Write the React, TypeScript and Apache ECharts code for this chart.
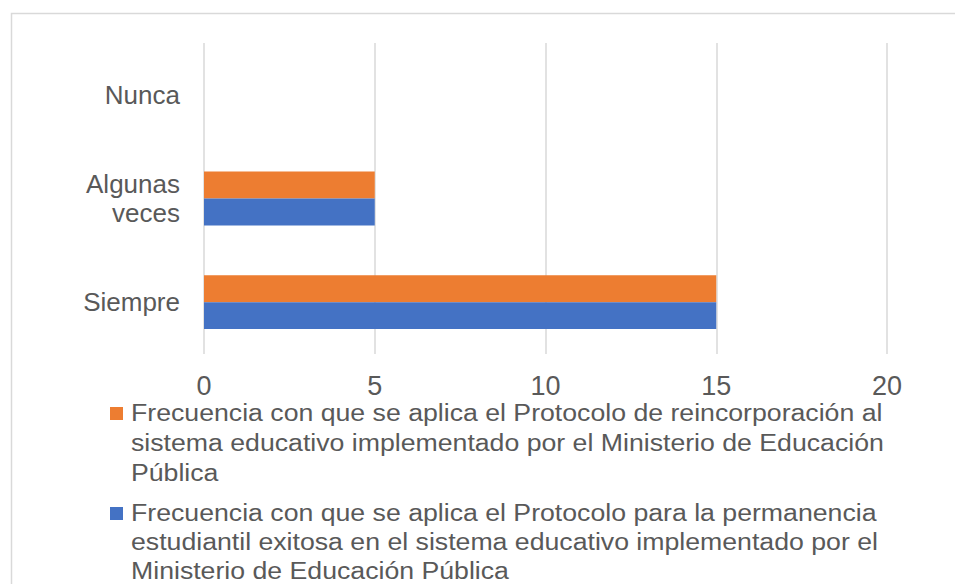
import React, { useEffect, useRef } from "react";
import * as echarts from "echarts";

const categories = ["Siempre", "Algunas\nveces", "Nunca"];
const permanencia = [15, 5, 0];
const reincorporacion = [15, 5, 0];
const xTicks = { min: 0, max: 20, interval: 5 };
const legendOrange = [
  "Frecuencia con que se aplica el Protocolo de reincorporación al",
  "sistema educativo implementado por el Ministerio de Educación",
  "Pública",
];
const legendBlue = [
  "Frecuencia con que se aplica el Protocolo para la permanencia",
  "estudiantil exitosa en el sistema educativo implementado por el",
  "Ministerio de Educación Pública",
];

const ORANGE = "#ED7D31";
const BLUE = "#4472C4";
const TEXT = "#595959";
const FONT = "'Liberation Sans', Arial, sans-serif";

export default function App() {
  const ref = useRef<HTMLDivElement>(null);
  useEffect(() => {
    if (!ref.current) return;
    const chart = echarts.init(ref.current, undefined, { renderer: "svg" });
    chart.setOption({
      animation: false,
      backgroundColor: "#fff",
      textStyle: { fontFamily: FONT },
      grid: { left: 204, right: 68, top: 43, bottom: 230 },
      xAxis: {
        type: "value",
        min: xTicks.min,
        max: xTicks.max,
        interval: xTicks.interval,
        axisLine: { show: false },
        axisTick: { show: false },
        splitLine: { lineStyle: { color: "#D9D9D9", width: 1.5 } },
        axisLabel: { color: TEXT, fontSize: 27, fontFamily: FONT, margin: 18 },
      },
      yAxis: {
        type: "category",
        data: categories,
        axisLine: { show: false },
        axisTick: { show: false },
        axisLabel: {
          color: TEXT,
          fontSize: 26,
          fontFamily: FONT,
          margin: 24,
          lineHeight: 29,
          align: "right",
        },
      },
      series: [
        {
          name: legendOrange.join(" "),
          type: "bar",
          data: reincorporacion,
          itemStyle: { color: ORANGE },
          barGap: "0%",
          barCategoryGap: "48%",
        },
        {
          name: legendBlue.join(" "),
          type: "bar",
          data: permanencia,
          itemStyle: { color: BLUE },
          barGap: "0%",
          barCategoryGap: "48%",
        },
      ],
      graphic: [
        {
          type: "rect",
          shape: { x: 11.5, y: 13.5, width: 980, height: 620 },
          style: { fill: "none", stroke: "#D9D9D9", lineWidth: 1.5 },
          silent: true,
        },
        {
          type: "rect",
          shape: { x: 110, y: 407, width: 13, height: 13 },
          style: { fill: ORANGE },
        },
        {
          type: "text",
          x: 131,
          y: 398,
          scaleX: 1.16,
          style: {
            text: legendOrange.join("\n"),
            fill: TEXT,
            font: `23px ${FONT}`,
            lineHeight: 30,
          },
        },
        {
          type: "rect",
          shape: { x: 110, y: 507, width: 13, height: 13 },
          style: { fill: BLUE },
        },
        {
          type: "text",
          x: 131,
          y: 498,
          scaleX: 1.16,
          style: {
            text: legendBlue.join("\n"),
            fill: TEXT,
            font: `23px ${FONT}`,
            lineHeight: 29,
          },
        },
      ],
    });
    return () => chart.dispose();
  }, []);
  return (
    <div
      ref={ref}
      style={{ position: "fixed", left: 0, top: 0, width: 955, height: 584 }}
    />
  );
}
